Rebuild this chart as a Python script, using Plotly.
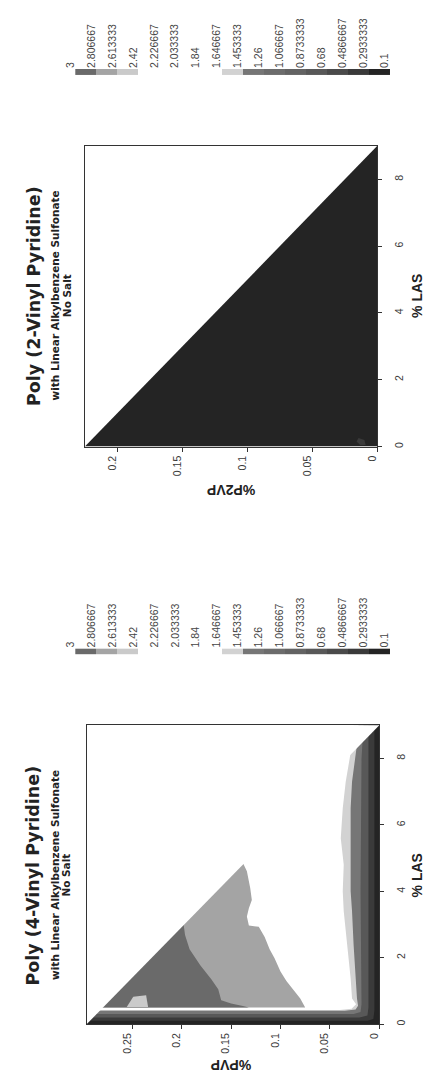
import plotly.graph_objects as go

# ---------------------------------------------------------------- key levels
levels = [3, 2.806667, 2.613333, 2.42, 2.226667, 2.033333, 1.84, 1.646667,
          1.453333, 1.26, 1.066667, 0.8733333, 0.68, 0.4866667, 0.2933333, 0.1]
level_labels = ["3", "2.806667", "2.613333", "2.42", "2.226667", "2.033333", "1.84",
                "1.646667", "1.453333", "1.26", "1.066667", "0.8733333", "0.68",
                "0.4866667", "0.2933333", "0.1"]
# grey used for each band between consecutive levels (same order as levels)
band_colors = ["#6a6a6a", "#a4a4a4", "#cacaca", "#ffffff", "#ffffff", "#ffffff",
               "#ffffff", "#d2d2d2", "#767676", "#6c6c6c", "#636363", "#585858",
               "#4a4a4a", "#3a3a3a", "#242424"]

las_max = 9
las_ticks = [0, 2, 4, 6, 8]

# ---------------------------------------------------------------- P2VP panel
p2vp_max = 0.225
p2vp_ticks = [0, 0.05, 0.1, 0.15, 0.2]
p2vp_ticktext = ["0", "0.05", "0.1", "0.15", "0.2"]
p2vp_level = 0.2
p2vp_spot_p = [0.009, 0.013, 0.016, 0.0145, 0.010]
p2vp_spot_las = [0.05, 0.04, 0.15, 0.26, 0.20]
p2vp_spot_level = 0.4

# ---------------------------------------------------------------- P4VP panel
p4vp_max = 0.296
p4vp_ticks = [0, 0.05, 0.1, 0.15, 0.2, 0.25]
p4vp_ticktext = ["0", "0.05", "0.1", "0.15", "0.2", "0.25"]

# bands hugging the %LAS = 0 and %PVP = 0 edges (boundary runs from the
# low-LAS side round the corner and up the PVP = 0 side)
edge_light_level = 1.55
edge_light_p = [0.30, 0.040, 0.028, 0.0235, 0.0276, 0.029, 0.0325, 0.036, 0.037,
                0.036, 0.039, 0.037, 0.034, 0.029, 0.0276, 0.026]
edge_light_las = [0.42, 0.42, 0.46, 0.60, 0.77, 1.37, 2.38, 3.40, 4.00,
                  4.80, 5.60, 6.50, 7.30, 8.10, 8.42, 9.0]
edge_dark_level = 1.35
edge_dark_p = [0.30, 0.035, 0.024, 0.0215, 0.0226, 0.024, 0.026, 0.0276, 0.029,
               0.029, 0.029, 0.029, 0.0276, 0.024, 0.0226, 0.021]
edge_dark_las = [0.40, 0.40, 0.44, 0.55, 0.77, 1.37, 2.38, 3.40, 4.00,
                 4.80, 5.60, 6.50, 7.30, 8.10, 8.42, 9.0]
edge_mid_level = 0.78
edge_mid_p = [0.30, 0.026, 0.019, 0.018, 0.019, 0.018, 0.016]
edge_mid_las = [0.30, 0.30, 0.36, 0.60, 4.0, 8.0, 9.0]
edge_deep_level = 0.39
edge_deep_p = [0.30, 0.020, 0.012, 0.011, 0.011]
edge_deep_las = [0.20, 0.20, 0.26, 0.50, 9.0]
edge_core_level = 0.2
edge_core_p = [0.30, 0.012, 0.006, 0.005, 0.005]
edge_core_las = [0.10, 0.10, 0.15, 0.40, 9.0]

# high-value lobes near the PVP-rich side
lobe_a_level = 2.7
lobe_a_p = [0.1375, 0.134, 0.1306, 0.129, 0.132, 0.134, 0.132, 0.122, 0.116, 0.111,
            0.106, 0.100, 0.094, 0.0866, 0.080, 0.075, 0.30, 0.30]
lobe_a_las = [4.82, 4.60, 4.09, 3.74, 3.49, 3.24, 2.97, 2.93, 2.62, 2.25,
              1.98, 1.58, 1.30, 1.02, 0.77, 0.50, 0.50, 4.82]
lobe_b_level = 2.9
lobe_b_p = [0.198, 0.1966, 0.192, 0.181, 0.170, 0.163, 0.160, 0.150, 0.138, 0.132,
            0.30, 0.30]
lobe_b_las = [2.99, 2.68, 2.25, 1.76, 1.35, 1.05, 0.72, 0.62, 0.54, 0.50,
              0.50, 3.2]
lobe_c_level = 2.5
lobe_c_p = [0.2556, 0.249, 0.236, 0.234]
lobe_c_las = [0.51, 0.82, 0.87, 0.51]


def band_color(value):
    for i in range(len(band_colors)):
        if levels[i + 1] <= value <= levels[i]:
            return band_colors[i]
    return "#ffffff"


def region(p, las, level, xa, ya):
    return go.Scatter(x=p, y=las, mode="lines", fill="toself",
                      fillcolor=band_color(level), line=dict(width=0),
                      hoverinfo="skip", showlegend=False, xaxis=xa, yaxis=ya)


def edge_region(p, las, level, xa, ya):
    xs = list(p) + [0, 0, p[0]]
    ys = list(las) + [las_max, 0, 0]
    return region(xs, ys, level, xa, ya)


def outside_mask(pmax, xa, ya):
    xs = [pmax, 0, 0, pmax * 1.05, pmax * 1.05]
    ys = [0, las_max, las_max * 1.05, las_max * 1.05, 0]
    return go.Scatter(x=xs, y=ys, mode="lines", fill="toself", fillcolor="#ffffff",
                      line=dict(width=0), hoverinfo="skip", showlegend=False,
                      xaxis=xa, yaxis=ya)


fig = go.Figure()

# P2VP: whole composition triangle
fig.add_trace(region([0, p2vp_max, 0], [0, 0, las_max], p2vp_level, "x", "y"))
fig.add_trace(region(p2vp_spot_p, p2vp_spot_las, p2vp_spot_level, "x", "y"))

# P4VP: layered bands, then blank out the area beyond the triangle
fig.add_trace(edge_region(edge_light_p, edge_light_las, edge_light_level, "x2", "y2"))
fig.add_trace(edge_region(edge_dark_p, edge_dark_las, edge_dark_level, "x2", "y2"))
fig.add_trace(edge_region(edge_mid_p, edge_mid_las, edge_mid_level, "x2", "y2"))
fig.add_trace(edge_region(edge_deep_p, edge_deep_las, edge_deep_level, "x2", "y2"))
fig.add_trace(edge_region(edge_core_p, edge_core_las, edge_core_level, "x2", "y2"))
fig.add_trace(region(lobe_a_p, lobe_a_las, lobe_a_level, "x2", "y2"))
fig.add_trace(region(lobe_b_p, lobe_b_las, lobe_b_level, "x2", "y2"))
fig.add_trace(region(lobe_c_p, lobe_c_las, lobe_c_level, "x2", "y2"))
fig.add_trace(outside_mask(p4vp_max, "x2", "y2"))

# colour keys
span = levels[0] - levels[-1]
colorscale = []
for i in reversed(range(len(band_colors))):
    lo, hi = levels[i + 1], levels[i]
    colorscale.append([(lo - levels[-1]) / span, band_colors[i]])
    colorscale.append([(hi - levels[-1]) / span, band_colors[i]])
key_x = [i + 0.5 for i in range(len(band_colors))]
key_z = [[(levels[i] + levels[i + 1]) / 2 for i in range(len(band_colors))]]
for xa, ya in (("x3", "y3"), ("x4", "y4")):
    fig.add_trace(go.Heatmap(x=key_x, y=[0], z=key_z, colorscale=colorscale,
                             zmin=levels[-1], zmax=levels[0], showscale=False,
                             hoverinfo="skip", xaxis=xa, yaxis=ya))

W, H = 424, 1074
tick_font = dict(family="Liberation Sans", size=10.5, color="#3a3a3a")


def px_x(a, b):
    return [a / W, b / W]


def px_y(top, bottom):
    return [1 - bottom / H, 1 - top / H]


def p_axis(domain, pmax, ticks, text, anchor):
    return dict(domain=domain, range=[pmax, 0], anchor=anchor, tickvals=ticks,
                ticktext=text, tickangle=-90, ticks="outside", ticklen=4,
                tickcolor="#333", showline=True, mirror=True, linecolor="#333",
                linewidth=1, showgrid=False, zeroline=False, tickfont=tick_font,
                ticklabelshift=5, fixedrange=True)


def las_axis(domain, anchor):
    return dict(domain=domain, range=[0, las_max], anchor=anchor, side="right",
                tickvals=las_ticks, tickangle=-90, ticks="outside", ticklen=4,
                tickcolor="#333", showline=True, mirror=True, linecolor="#333",
                linewidth=1, showgrid=False, zeroline=False, tickfont=tick_font,
                ticklabelstandoff=8, fixedrange=True)


def key_axis(domain, anchor):
    return dict(domain=domain, range=[0, len(band_colors)], anchor=anchor, side="top",
                tickvals=list(range(len(levels))), ticktext=level_labels,
                tickangle=-90, ticks="", showline=False, showgrid=False,
                zeroline=False, ticklabelshift=-5,
                tickfont=dict(family="Liberation Sans", size=10.5, color="#444"),
                fixedrange=True)


def key_yaxis(domain, anchor):
    return dict(domain=domain, range=[-0.5, 0.5], anchor=anchor, visible=False,
                fixedrange=True)


fig.update_layout(
    width=W, height=H, margin=dict(l=0, r=0, t=0, b=0),
    paper_bgcolor="white", plot_bgcolor="white", showlegend=False,
    xaxis=p_axis(px_x(75, 376), p2vp_max, p2vp_ticks, p2vp_ticktext, "y"),
    yaxis=las_axis(px_y(146, 447), "x"),
    xaxis2=p_axis(px_x(77, 378), p4vp_max, p4vp_ticks, p4vp_ticktext, "y2"),
    yaxis2=las_axis(px_y(726, 1025), "x2"),
    xaxis3=key_axis(px_x(65, 389), "y3"),
    yaxis3=key_yaxis(px_y(69, 75), "x3"),
    xaxis4=key_axis(px_x(65, 389), "y4"),
    yaxis4=key_yaxis(px_y(649, 655), "x4"),
)

title_font = dict(family="DejaVu Sans", size=17.5, color="#222")
sub_font = dict(family="DejaVu Sans", size=10.5, color="#222")
axis_title_font = dict(family="Liberation Sans", size=14, color="#222")


def note(text, x, y, font, angle=-90):
    fig.add_annotation(text=text, x=x / W, y=1 - y / H, xref="paper", yref="paper",
                       showarrow=False, textangle=angle, font=font,
                       xanchor="center", yanchor="middle")


for name, yc, ptitle, yt in (("Poly (2-Vinyl Pyridine)", 296, "%P2VP", 491),
                             ("Poly (4-Vinyl Pyridine)", 876, "%PVP", 1066)):
    note("<b>" + name + "</b>", 22, yc, title_font)
    note("<b>with Linear Alkylbenzene Sulfonate</b>", 44, yc, sub_font)
    note("<b>No Salt</b>", 56, yc, sub_font)
    note("<b>% LAS</b>", 417, yc, axis_title_font)
    note("<b>" + ptitle + "</b>", 226, yt, axis_title_font, angle=180)

fig.write_html("out.html")
